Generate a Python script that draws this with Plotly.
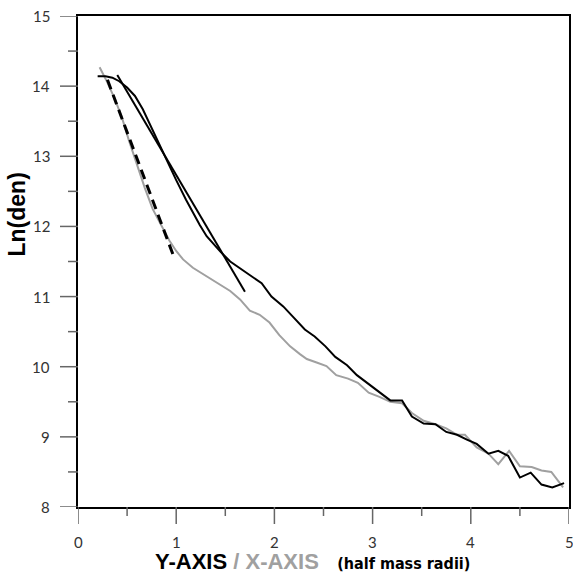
import plotly.graph_objects as go

# Radial density profile, measured along the Y axis (black) and X axis (grey)
y_axis_r = [0.20, 0.28, 0.35, 0.42, 0.50, 0.58, 0.66, 0.74, 0.82, 0.90, 1.00, 1.10,
            1.20, 1.24, 1.31, 1.38, 1.45, 1.55, 1.65, 1.77, 1.87, 1.97, 2.09, 2.19,
            2.31, 2.41, 2.52, 2.62, 2.74, 2.84, 2.96, 3.08, 3.18, 3.30, 3.40, 3.52,
            3.64, 3.75, 3.86, 3.96, 4.06, 4.18, 4.28, 4.38, 4.50, 4.61, 4.72, 4.83, 4.95]
y_axis_lnden = [14.14, 14.14, 14.12, 14.07, 13.98, 13.86, 13.67, 13.43, 13.18, 12.94,
                12.66, 12.38, 12.12, 12.02, 11.86, 11.75, 11.64, 11.50, 11.40, 11.28,
                11.19, 11.00, 10.86, 10.71, 10.53, 10.43, 10.29, 10.14, 10.02, 9.88,
                9.75, 9.62, 9.52, 9.52, 9.29, 9.19, 9.18, 9.07, 9.03, 8.96, 8.90, 8.76,
                8.80, 8.73, 8.42, 8.49, 8.32, 8.28, 8.34]

x_axis_r = [0.22, 0.30, 0.38, 0.45, 0.52, 0.60, 0.68, 0.76, 0.85, 0.93, 1.00, 1.07,
            1.17, 1.26, 1.36, 1.46, 1.55, 1.65, 1.75, 1.85, 1.95, 2.05, 2.16, 2.26,
            2.33, 2.43, 2.53, 2.63, 2.75, 2.85, 2.96, 3.07, 3.18, 3.30, 3.40, 3.52,
            3.64, 3.75, 3.86, 3.94, 4.06, 4.18, 4.28, 4.39, 4.50, 4.62, 4.72, 4.82, 4.94]
x_axis_lnden = [14.27, 14.05, 13.80, 13.54, 13.22, 12.88, 12.55, 12.25, 12.00, 11.80,
                11.65, 11.53, 11.41, 11.33, 11.24, 11.16, 11.08, 10.96, 10.80, 10.74,
                10.63, 10.45, 10.29, 10.18, 10.11, 10.06, 10.01, 9.88, 9.83, 9.77,
                9.63, 9.57, 9.50, 9.48, 9.34, 9.23, 9.18, 9.12, 9.03, 9.03, 8.85, 8.76,
                8.61, 8.80, 8.58, 8.57, 8.52, 8.50, 8.28]

# Straight-line fits to the inner slopes
fit_y_r = [0.40, 1.70]
fit_y_lnden = [14.16, 11.07]
fit_x_r = [0.30, 0.97]
fit_x_lnden = [14.09, 11.59]

# Axis ticks
x_major = [0, 1, 2, 3, 4, 5]
x_minor = [0.5, 1.5, 2.5, 3.5, 4.5]
y_major = [8, 9, 10, 11, 12, 13, 14, 15]
y_minor = [8.5, 9.5, 10.5, 11.5, 12.5, 13.5, 14.5]

BLACK = "#000000"
GREY = "#a0a0a0"
TICK = "#666666"
PLOT_PX = 491  # side of the square plotting area in pixels

fig = go.Figure()
fig.add_trace(go.Scatter(x=x_axis_r, y=x_axis_lnden, mode="lines",
                         line=dict(color=GREY, width=2)))
fig.add_trace(go.Scatter(x=y_axis_r, y=y_axis_lnden, mode="lines",
                         line=dict(color=BLACK, width=2)))
fig.add_trace(go.Scatter(x=fit_y_r, y=fit_y_lnden, mode="lines",
                         line=dict(color=BLACK, width=2)))
fig.add_trace(go.Scatter(x=fit_x_r, y=fit_x_lnden, mode="lines",
                         line=dict(color=BLACK, width=3, dash="10px,6px")))

fig.update_layout(
    template="none",
    xaxis=dict(range=[0, 5], showline=True, linecolor=BLACK, linewidth=1.5,
               mirror=True, ticks="", showticklabels=False,
               showgrid=False, zeroline=False),
    yaxis=dict(range=[8, 15], showline=True, linecolor=BLACK, linewidth=1.5,
               mirror=True, ticks="", showticklabels=False,
               showgrid=False, zeroline=False),
)

# Outward tick marks: long at whole units, short at halves
for v in x_major:
    fig.add_shape(type="line", xref="x", yref="paper", x0=v, x1=v,
                  y0=0, y1=-17 / PLOT_PX, line=dict(color=TICK, width=1.5))
for v in x_minor:
    fig.add_shape(type="line", xref="x", yref="paper", x0=v, x1=v,
                  y0=0, y1=-9 / PLOT_PX, line=dict(color=TICK, width=1.5))
for v in y_major:
    fig.add_shape(type="line", xref="paper", yref="y", y0=v, y1=v,
                  x0=0, x1=-18 / PLOT_PX, line=dict(color=TICK, width=1.5))
for v in y_minor:
    fig.add_shape(type="line", xref="paper", yref="y", y0=v, y1=v,
                  x0=0, x1=-10 / PLOT_PX, line=dict(color=TICK, width=1.5))

tick_font = dict(family="Lato, DejaVu Sans, sans-serif", size=15, color="#333333")
for v in x_major:
    fig.add_annotation(text=str(v), xref="x", yref="paper", x=v, y=-35 / PLOT_PX,
                       xanchor="center", yanchor="middle", showarrow=False,
                       font=tick_font)
for v in y_major:
    fig.add_annotation(text=str(v), xref="paper", yref="y", x=-26 / PLOT_PX, y=v,
                       xanchor="right", yanchor="middle", showarrow=False,
                       font=tick_font)

fig.add_annotation(text="Ln(den)", textangle=-90, xref="paper", yref="paper",
                   x=-0.125, y=0.595, xanchor="center", yanchor="middle",
                   showarrow=False,
                   font=dict(family="Liberation Sans, Arial, sans-serif",
                             size=23, color=BLACK, weight="bold"))
fig.add_annotation(
    text=("Y-AXIS<span style='color:#a0a0a0'> / X-AXIS</span>&nbsp;&nbsp;&nbsp;"
          "<span style='font-size:16px;font-family:DejaVu Sans Condensed'>"
          "(half mass radii)</span>"),
    xref="paper", yref="paper", x=0.153, y=-0.112,
    xanchor="left", yanchor="middle", showarrow=False,
    font=dict(family="Liberation Sans, Arial, sans-serif",
              size=22, color=BLACK, weight="bold"))

fig.update_layout(width=573, height=573, showlegend=False,
                  margin=dict(l=78, r=4, t=16, b=66),
                  paper_bgcolor="white", plot_bgcolor="white")

fig.write_html("out.html")
